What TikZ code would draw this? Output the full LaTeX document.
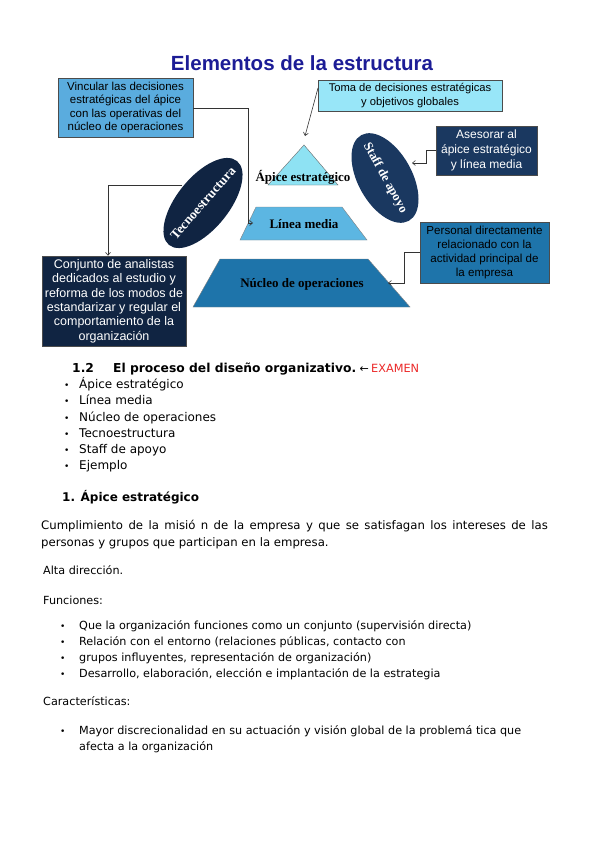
\documentclass[tikz,border=0pt]{standalone}
\usepackage{fontspec}
\setmainfont{DejaVu Sans}
\newfontfamily\arialf{Liberation Sans}
\newfontfamily\timesf{Liberation Serif}
\usetikzlibrary{arrows.meta,shapes.geometric}
\definecolor{titleblue}{RGB}{28,28,150}
\definecolor{boxA}{RGB}{90,172,222}
\definecolor{boxB}{RGB}{152,230,248}
\definecolor{boxC}{RGB}{26,56,96}
\definecolor{boxD}{RGB}{30,116,170}
\definecolor{boxE}{RGB}{16,36,66}
\definecolor{triC}{RGB}{142,226,243}
\definecolor{midC}{RGB}{92,182,226}
\definecolor{opC}{RGB}{30,116,170}
\definecolor{examred}{RGB}{235,40,40}
\tikzset{
  infobox/.style={draw=black!70, line width=0.5pt, inner sep=0pt, align=center,
     font=\arialf\fontsize{11.5}{13.3}\selectfont},
  ovalbox/.style={ellipse, inner sep=0pt},
  ovaltext/.style={inner sep=0pt, font=\timesf\bfseries\fontsize{13.2}{14}\selectfont, text=white},
  shapelabel/.style={font=\timesf\bfseries\fontsize{13}{15}\selectfont},
  conn/.style={draw=black!80, line width=0.6pt, -{Straight Barb[length=3pt,width=5pt]}},
  bodytxt/.style={anchor=base west, inner sep=0pt, font=\fontsize{12}{14}\selectfont},
  listtxt/.style={anchor=base west, inner sep=0pt, font=\fontsize{11.2}{13}\selectfont},
  bul/.style={anchor=base west, inner sep=0pt, font=\fontsize{9}{13}\selectfont},
}
\begin{document}
\begin{tikzpicture}[x=1pt,y=-1pt]
\useasboundingbox[fill=white] (0,0) rectangle (599,848);

% title
\node[anchor=base, inner sep=0pt, font=\arialf\bfseries\fontsize{20.5}{24}\selectfont, text=titleblue] (title) at (302,71) {Elementos de la estructura};

% shapes
\coordinate (apx) at (304,145);
\coordinate (tl) at (268,185);
\coordinate (tr) at (338,185);
\filldraw[fill=triC, draw=black!60, line width=0.4pt] (apx) -- (tr) -- (tl) -- cycle;
\coordinate (mtl) at (256,207);
\coordinate (mtr) at (342,207);
\coordinate (mbr) at (367,240);
\coordinate (mbl) at (240,240);
\filldraw[fill=midC, draw=black!50, line width=0.4pt] (mtl) -- (mtr) -- (mbr) -- (mbl) -- cycle;
\coordinate (ntl) at (220,259);
\coordinate (ntr) at (368,259);
\coordinate (nbr) at (410,307);
\coordinate (nbl) at (193,307);
\filldraw[fill=opC, draw=black!50, line width=0.4pt] (ntl) -- (ntr) -- (nbr) -- (nbl) -- cycle;

\node[shapelabel] (apicelbl) at (303,177) {Ápice estratégico};
\node[shapelabel] (medialbl) at (304,224) {Línea media};
\node[shapelabel] (nucleolbl) at (302,284) {Núcleo de operaciones};

% ellipses
\node[ovalbox, fill=boxE, rotate=51, minimum width=108, minimum height=52] (tecno) at (203,203) {};
\node[ovaltext, rotate=49] (tecnolbl) at (tecno.center) {Tecnoestructura};
\node[ovalbox, fill=boxC, rotate=-61, minimum width=98, minimum height=54] (staff) at (385,178) {};
\node[ovaltext, rotate=-61, font=\timesf\bfseries\fontsize{12.8}{14}\selectfont] (stafflbl) at (staff.center) {Staff de apoyo};

% boxes
\node[infobox, fill=boxA, minimum width=135, minimum height=59] (b1) at (125.5,107.5)
  {Vincular las decisiones\\estratégicas del ápice\\con las operativas del\\núcleo de operaciones};
\node[infobox, fill=boxB, minimum width=184, minimum height=31, font=\arialf\fontsize{11.2}{14}\selectfont] (b2) at (410,95.5)
  {Toma de decisiones estratégicas\\y objetivos globales};
\node[infobox, fill=boxC, text=white, minimum width=101, minimum height=49, font=\arialf\fontsize{12}{15}\selectfont] (b3) at (486.5,150.5)
  {Asesorar al\\ápice estratégico\\y línea media};
\node[infobox, fill=boxD, minimum width=129, minimum height=61, font=\arialf\fontsize{11.6}{14}\selectfont] (b4) at (484.5,252.5)
  {Personal directamente\\relacionado con la\\actividad principal de\\la empresa};
\node[infobox, fill=boxE, text=white, minimum width=144, minimum height=90,
  font=\arialf\fontsize{12.5}{14.4}\selectfont] (b5) at (114,301)
  {Conjunto de analistas\\dedicados al estudio y\\reforma de los modos de\\estandarizar y regular el\\comportamiento de la\\organización};

% connectors
\coordinate (c1a) at (248,108);
\coordinate (c1b) at (248,223);
\coordinate (c1e) at (253,223);
\draw[conn] (b1.east |- c1a) -- (c1a) -- (c1b) -- (c1e);
\coordinate (c2s) at (318,88);
\coordinate (c2e) at (305,136);
\draw[conn] (c2s) -- (c2e);
\coordinate (c3a) at (426,150);
\coordinate (c3b) at (426,163);
\coordinate (c3e) at (412,163);
\draw[conn] (b3.west |- c3a) -- (c3a) -- (c3b) -- (c3e);
\coordinate (c4a) at (404,252);
\coordinate (c4b) at (404,283);
\coordinate (c4e) at (388,283);
\draw[conn] (b4.west |- c4a) -- (c4a) -- (c4b) -- (c4e);
\coordinate (c5s) at (182,185);
\coordinate (c5a) at (108,185);
\draw[conn] (c5s) -- (c5a) -- (c5a |- b5.north);

% body text
\node[anchor=base west, inner sep=0pt, font=\bfseries\fontsize{12.3}{14}\selectfont] (h12) at (72,372) {1.2};
\node[anchor=base west, inner sep=0pt, font=\bfseries\fontsize{12.3}{14}\selectfont] (h12t) at (113,372) {El proceso del diseño organizativo.};
\node[anchor=base west, inner sep=0pt, font=\fontsize{11}{13}\selectfont] (arr) at ([xshift=3pt]h12t.base east) {←};
\node[anchor=base west, inner sep=0pt, font=\fontsize{11.3}{13}\selectfont, text=examred] (exam) at ([xshift=2pt]arr.base east) {EXAMEN};

\foreach \t/\y [count=\i] in {Ápice estratégico/388, Línea media/404, Núcleo de operaciones/421, Tecnoestructura/437, Staff de apoyo/453, Ejemplo/469}{
  \node[bul] (bl\i) at (64,\y) {•};
  \node[bodytxt] (li\i) at (79,\y) {\t};
}

\node[anchor=base west, inner sep=0pt, font=\bfseries\fontsize{12}{14}\selectfont] (h1) at (62,501) {1. Ápice estratégico};
\node[anchor=base west, inner sep=0pt, font=\fontsize{11.7}{14}\selectfont] (p1) at (41,529) {\spaceskip=5.4pt plus 1pt Cumplimiento de la misió n de la empresa y que se satisfagan los intereses de las};
\node[anchor=base west, inner sep=0pt, font=\fontsize{11.7}{14}\selectfont] (p2) at (41,546) {personas y grupos que participan en la empresa.};
\node[listtxt] (p3) at (43,574) {Alta dirección.};
\node[listtxt] (p4) at (43,604) {Funciones:};

\foreach \t/\y [count=\i] in {Que la organización funciones como un conjunto (supervisión directa)/629, Relación con el entorno (relaciones públicas{,} contacto con/645, grupos influyentes{,} representación de organización)/661, Desarrollo{,} elaboración{,} elección e implantación de la estrategia/677}{
  \node[bul] (fb\i) at (60,\y) {•};
  \node[listtxt] (fi\i) at (79,\y) {\t};
}

\node[listtxt] (p5) at (43,705) {Características:};
\node[bul] (cb1) at (60,734) {•};
\node[listtxt] (ci1) at (79,734) {Mayor discrecionalidad en su actuación y visión global de la problemá tica que};
\node[listtxt] (ci2) at (79,750) {afecta a la organización};
\end{tikzpicture}
\end{document}
